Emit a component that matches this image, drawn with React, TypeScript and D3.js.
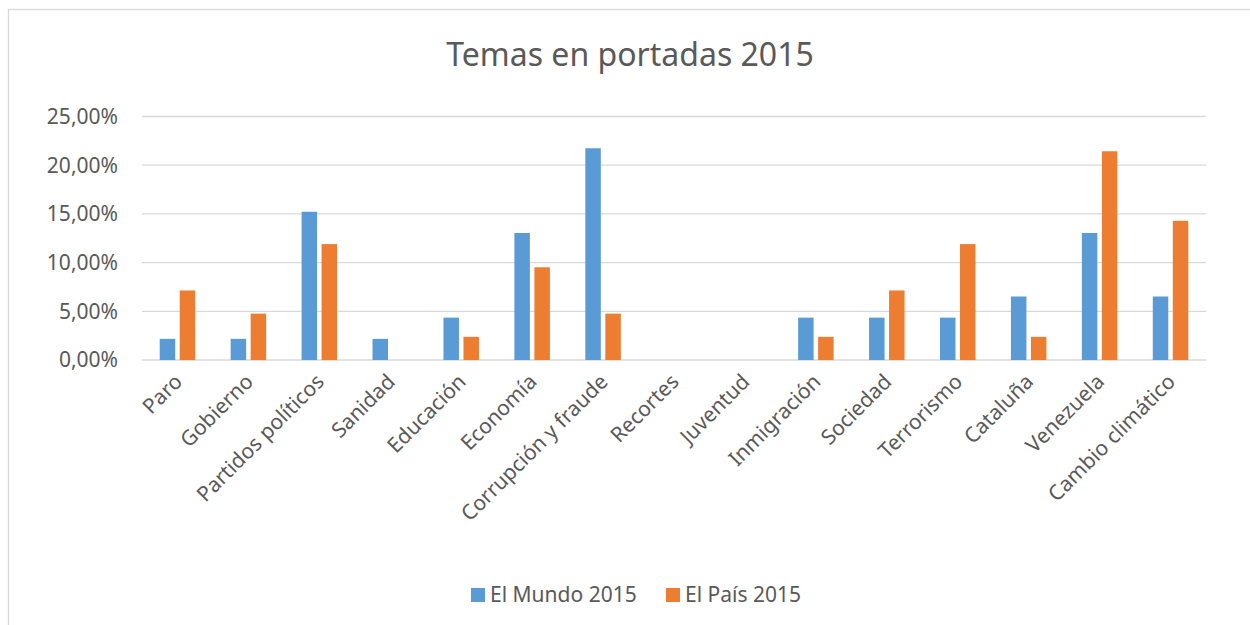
import React, { useEffect, useRef } from "react";
import * as d3 from "d3";

const categories = [
  "Paro",
  "Gobierno",
  "Partidos políticos",
  "Sanidad",
  "Educación",
  "Economía",
  "Corrupción y fraude",
  "Recortes",
  "Juventud",
  "Inmigración",
  "Sociedad",
  "Terrorismo",
  "Cataluña",
  "Venezuela",
  "Cambio climático",
];
const seriesNames = ["El Mundo 2015", "El País 2015"];
const elMundo = [2.17, 2.17, 15.22, 2.17, 4.35, 13.04, 21.74, 0, 0, 4.35, 4.35, 4.35, 6.52, 13.04, 6.52];
const elPais = [7.14, 4.76, 11.9, 0, 2.38, 9.52, 4.76, 0, 0, 2.38, 7.14, 11.9, 2.38, 21.43, 14.29];
const yTicks = [0, 5, 10, 15, 20, 25];
const colors = ["#5B9BD5", "#ED7D31"];

const App = () => {
  const ref = useRef<SVGSVGElement>(null);

  useEffect(() => {
    const width = 1250;
    const height = 625;
    const margin = { top: 116.5, right: 44, bottom: 265, left: 142 };
    const font = "'Noto Sans', sans-serif";
    const textColor = "#595959";

    const svg = d3.select(ref.current);
    svg.selectAll("*").remove();

    svg
      .append("rect")
      .attr("x", 8.5)
      .attr("y", 9.5)
      .attr("width", width + 10)
      .attr("height", height + 10)
      .attr("fill", "white")
      .attr("stroke", "#d9d9d9")
      .attr("stroke-width", 1.3);

    const x0 = d3
      .scaleBand()
      .domain(categories)
      .range([margin.left, width - margin.right]);
    const x1 = d3
      .scaleBand()
      .domain(seriesNames)
      .range([0, x0.bandwidth()])
      .paddingInner(0.225)
      .paddingOuter(0.886);
    const y = d3
      .scaleLinear()
      .domain([0, 25])
      .range([height - margin.bottom, margin.top]);

    svg
      .append("text")
      .attr("x", 630)
      .attr("y", 66)
      .attr("text-anchor", "middle")
      .attr("font-family", font)
      .attr("font-size", 32)
      .attr("fill", textColor)
      .text("Temas en portadas 2015");

    // grid
    svg
      .append("g")
      .selectAll("line")
      .data(yTicks)
      .join("line")
      .attr("x1", margin.left)
      .attr("x2", width - margin.right)
      .attr("y1", (d) => y(d))
      .attr("y2", (d) => y(d))
      .attr("stroke", "#d9d9d9")
      .attr("stroke-width", 1.3);

    svg
      .append("g")
      .attr("font-family", font)
      .attr("font-size", 21)
      .attr("fill", textColor)
      .attr("text-anchor", "end")
      .selectAll("text")
      .data(yTicks)
      .join("text")
      .attr("x", 118)
      .attr("y", (d) => y(d))
      .attr("dy", "0.35em")
      .text((d) => d3.format(".2f")(d).replace(".", ",") + "%");

    const values = [elMundo, elPais];
    const groups = svg
      .append("g")
      .selectAll("g")
      .data(categories)
      .join("g")
      .attr("transform", (d) => `translate(${x0(d)},0)`);

    groups
      .selectAll("rect")
      .data((d, i) => seriesNames.map((s, j) => ({ s, v: values[j][i], c: colors[j] })))
      .join("rect")
      .filter((d) => d.v > 0)
      .attr("x", (d) => x1(d.s)!)
      .attr("width", x1.bandwidth())
      .attr("y", (d) => y(d.v))
      .attr("height", (d) => y(0) - y(d.v))
      .attr("fill", (d) => d.c);

    svg
      .append("g")
      .attr("font-family", font)
      .attr("font-size", 21)
      .attr("fill", textColor)
      .selectAll("text")
      .data(categories)
      .join("text")
      .attr("text-anchor", "end")
      .attr(
        "transform",
        (d) => `translate(${x0(d)! + x0.bandwidth() / 2 + 6},${y(0) + 23}) rotate(-45)`
      )
      .text((d) => d);

    const legend = svg
      .append("g")
      .attr("font-family", font)
      .attr("font-size", 21)
      .attr("fill", textColor)
      .selectAll("g")
      .data(seriesNames)
      .join("g")
      .attr("transform", (d, i) => `translate(${[471, 666][i]},588)`);
    legend
      .append("rect")
      .attr("width", 14)
      .attr("height", 14)
      .attr("fill", (d, i) => colors[i]);
    legend
      .append("text")
      .attr("x", 19)
      .attr("y", 7)
      .attr("dy", "0.35em")
      .text((d) => d);
  }, []);

  return (
    <svg
      ref={ref}
      width={1250}
      height={625}
      style={{ position: "absolute", left: 0, top: 0, background: "white" }}
    />
  );
};

export default App;
